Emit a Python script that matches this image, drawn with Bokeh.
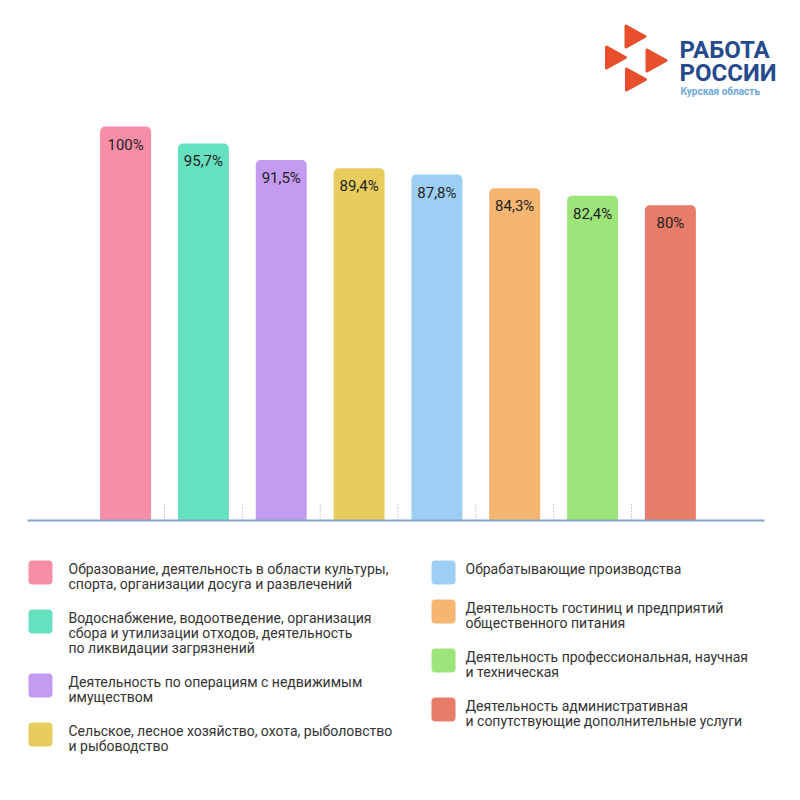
from bokeh.plotting import figure
from bokeh.models import Range1d, ColumnDataSource
from bokeh.core.properties import value
from bokeh.embed import file_html
from bokeh.resources import INLINE

# ---------------- data ----------------
categories = [
    "Образование, деятельность в области культуры,\nспорта, организации досуга и развлечений",
    "Водоснабжение, водоотведение, организация\nсбора и утилизации отходов, деятельность\nпо ликвидации загрязнений",
    "Деятельность по операциям с недвижимым\nимуществом",
    "Сельское, лесное хозяйство, охота, рыболовство\nи рыбоводство",
    "Обрабатывающие производства",
    "Деятельность гостиниц и предприятий\nобщественного питания",
    "Деятельность профессиональная, научная\nи техническая",
    "Деятельность административная\nи сопутствующие дополнительные услуги",
]
values = [100, 95.7, 91.5, 89.4, 87.8, 84.3, 82.4, 80]
colors = ["#F78EA8", "#66E1BF", "#C39CF2", "#E8CD5E", "#9DCFF5", "#F5B672", "#9DE57A", "#E67C69"]
logo_title = ["РАБОТА", "РОССИИ"]
logo_sub = "Курская область"

FONT = value("Roboto")
W = H = 784

# value axis: 0 at y=520px, 3.94 px per percent; categories 77.83 px apart
px_per_unit = 3.94
base_px = 520
cat_px = 77.83
cat_ref_px = 164  # boundary between categories 1 and 2
x_start = 1.5 - cat_ref_px / cat_px
x_end = 1.5 + (W - cat_ref_px) / cat_px
y_end = base_px / px_per_unit
y_start = -(H - base_px) / px_per_unit

p = figure(width=W, height=H, x_range=Range1d(x_start, x_end), y_range=Range1d(y_start, y_end),
           min_border=0, x_axis_location=None, y_axis_location=None,
           output_backend="svg", toolbar_location=None)
p.grid.visible = False
p.outline_line_color = None
p.extra_x_ranges = {"px": Range1d(0, W)}
p.extra_y_ranges = {"px": Range1d(H, 0)}

# ---------------- bars ----------------
xs = list(range(1, len(values) + 1))
labels = [("%g" % v).replace(".", ",") + "%" for v in values]
src = ColumnDataSource(dict(x=xs, top=values, color=colors, label=labels))
p.vbar(x="x", top="top", bottom=0, width=0.655, fill_color="color", line_color=None,
       border_radius=(5, 5, 0, 0), source=src)
p.text(x="x", y="top", text="label", source=src, y_offset=18, text_align="center",
       text_baseline="middle", text_font=FONT, text_font_size="15px", text_color="#1E1E1E")

bounds = [i + 0.5 for i in xs[:-1]]
tick_h = 18 / px_per_unit
p.segment(x0=bounds, y0=[0] * len(bounds), x1=bounds, y1=[tick_h] * len(bounds),
          line_color="#9A9A9A", line_width=1, line_dash="1 2")
axis_lo = xs[0] - 1.26
axis_hi = xs[-1] + 1.21
p.segment(x0=[axis_lo], y0=[0], x1=[axis_hi], y1=[0], line_color="#8AA8C5", line_width=2)

# ---------------- logo ----------------
tri_centers = [(635, 36), (615.5, 57), (656, 60), (635.5, 79)]
tri_w, tri_h = 19, 21
txs, tys = [], []
for cx, cy in tri_centers:
    x0 = cx - tri_w / 2
    txs.append([x0, x0 + tri_w, x0])
    tys.append([cy - tri_h / 2, cy, cy + tri_h / 2])
p.patches(txs, tys, fill_color="#E84F2C", line_color="#E84F2C", line_width=3, line_join="round",
          x_range_name="px", y_range_name="px")
p.text(x=[679, 679], y=[49.5, 72.5], text=logo_title, text_font=FONT, text_font_style="bold",
       text_font_size="24px", text_color="#264A8E", text_baseline="middle",
       x_range_name="px", y_range_name="px")
p.text(x=[680], y=[91], text=[logo_sub], text_font=FONT, text_font_style="bold",
       text_font_size="10px", text_color="#6AA7DB", text_baseline="middle",
       x_range_name="px", y_range_name="px")

# ---------------- legend ----------------
sw = 24
line_h = 15
gap = 19
cols = [(28, 68, range(0, 4)), (431, 465, range(4, 8))]
ql, qr, qt, qb, qc = [], [], [], [], []
tx, ty, tt = [], [], []
for sx, textx, idxs in cols:
    top = 560
    for i in idxs:
        lines = categories[i].split("\n")
        ql.append(sx); qr.append(sx + sw); qt.append(top); qb.append(top + sw); qc.append(colors[i])
        for k, ln in enumerate(lines):
            tx.append(textx); ty.append(top + 8.5 + k * line_h); tt.append(ln)
        top += max(len(lines) * line_h, 20) + gap
p.quad(left=ql, right=qr, top=qt, bottom=qb, fill_color=qc, line_color=None, border_radius=4,
       x_range_name="px", y_range_name="px")
p.text(x=tx, y=ty, text=tt, text_baseline="middle", text_align="left",
       text_font=FONT, text_font_size="14px", text_color="#333333",
       x_range_name="px", y_range_name="px")

open("out.html", "w").write(file_html(p, INLINE))
